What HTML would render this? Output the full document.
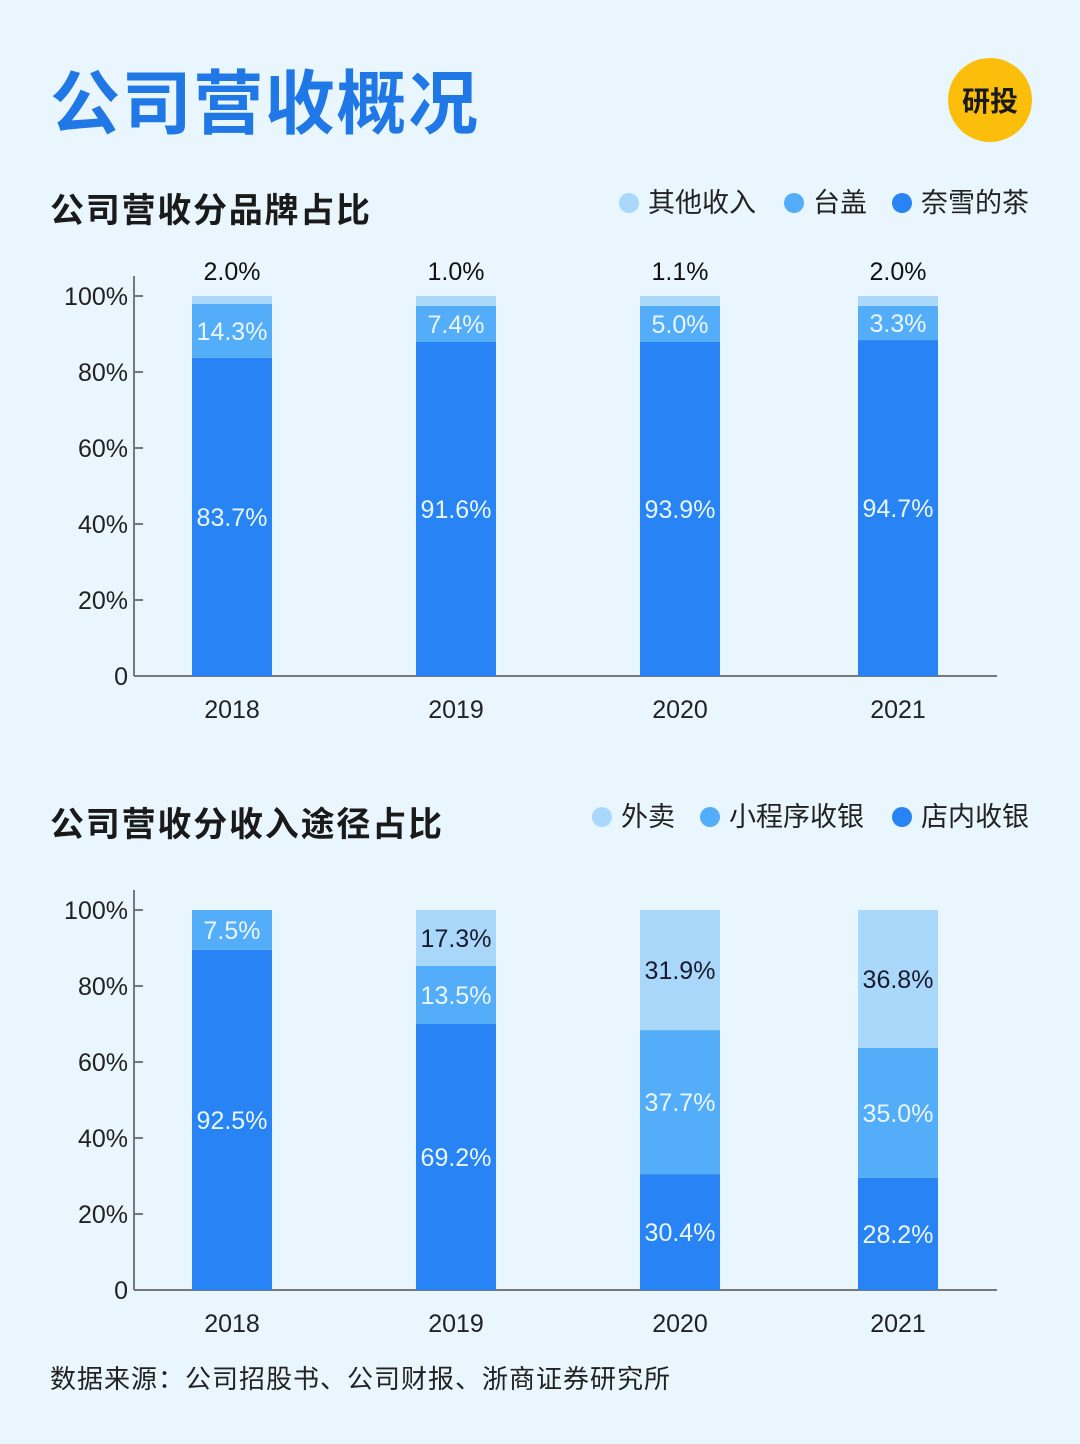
<!DOCTYPE html>
<html><head><meta charset="utf-8"><style>
body{margin:0;background:#eaf6fe;width:1080px;height:1439px;overflow:hidden;font-family:"Liberation Sans","Noto Sans CJK SC",sans-serif;}
</style></head><body>
<svg id="s" width="1080" height="1439" xmlns="http://www.w3.org/2000/svg" style="font-family:'Liberation Sans','Noto Sans CJK SC',sans-serif">
<rect width="1080" height="1439" fill="#eaf6fe"/>
<text x="50" y="128" font-size="70" font-weight="bold" fill="#1f78e6" textLength="428">公司营收概况</text>
<circle cx="990" cy="100" r="42" fill="#fbbf0b"/>
<text x="990" y="111" font-size="28" font-weight="bold" fill="#1a1a1a" text-anchor="middle">研投</text>
<text x="50" y="222" font-size="34" font-weight="bold" fill="#1a1a1a" textLength="320">公司营收分品牌占比</text>
<text x="50" y="836" font-size="34" font-weight="bold" fill="#1a1a1a" textLength="392">公司营收分收入途径占比</text>
<text x="50" y="1388" font-size="26" fill="#222" textLength="620">数据来源：公司招股书、公司财报、浙商证券研究所</text>
<g id="c1"></g>
<g id="c2"></g>
</svg>
<script>
const years=["2018","2019","2020","2021"];
// segment heights as drawn in the picture (% of axis)
const naixue=[83.7,87.9,87.9,88.4];
const taigai=[14.2,9.5,9.5,9.0];
const other=[2.1,2.6,2.6,2.6];
const instore=[89.5,70.0,30.5,29.5];
const miniapp=[10.5,15.3,37.9,34.2];
const delivery=[0,14.7,31.6,36.3];
// printed labels
const naixueLabels=["83.7%","91.6%","93.9%","94.7%"];
const taigaiLabels=["14.3%","7.4%","5.0%","3.3%"];
const otherLabels=["2.0%","1.0%","1.1%","2.0%"];
const instoreLabels=["92.5%","69.2%","30.4%","28.2%"];
const miniappLabels=["7.5%","13.5%","37.7%","35.0%"];
const deliveryLabels=["","17.3%","31.9%","36.8%"];
const yTicks=[0,20,40,60,80,100];
const yTickLabels=["0","20%","40%","60%","80%","100%"];
const NS="http://www.w3.org/2000/svg";
const C=["#2884f4","#54adf8","#aad8fa"];
const xc=[232,456,680,898];
function mk(p,t,a,txt){const e=document.createElementNS(NS,t);for(const k in a)e.setAttribute(k,a[k]);if(txt!=null)e.textContent=txt;p.appendChild(e);return e;}
function chart(gid,y0,series,labels,names,topOutside){
  const g=document.getElementById(gid);
  const y=v=>y0-v*3.8;
  const ax=mk(g,'line',{x1:134,y1:y0-400,x2:134,y2:y0,stroke:'#777','stroke-width':2});
  
  const bl=mk(g,'line',{x1:134,y1:y0,x2:997,y2:y0,stroke:'#777','stroke-width':2});
  
  yTicks.forEach((t,i)=>{
    const tk=mk(g,'line',{x1:134,y1:y(t),x2:143,y2:y(t),stroke:'#777','stroke-width':2});
    
    const tl=mk(g,'text',{x:128,y:y(t)+9,'font-size':25,fill:'#222','text-anchor':'end'},yTickLabels[i]);
    
  });
  years.forEach((yr,i)=>{
    const xl=mk(g,'text',{x:xc[i],y:y0+42,'font-size':25,fill:'#222','text-anchor':'middle'},yr);
    
    let acc=0;
    series.forEach((s,k)=>{
      const v=s[i];
      if(v>0){
        const r=mk(g,'rect',{x:xc[i]-40,y:y(acc+v),width:80,height:v*3.8,fill:C[k]});
        
        let ly=y(acc+v/2)+9,fill=k==2?'#1a1a2e':'#eaf6ff';
        if(k==2&&topOutside){ly=y(100)-16;fill='#111';}
        const t=mk(g,'text',{x:xc[i],y:ly,'font-size':25,fill:fill,'text-anchor':'middle'},labels[k][i]);
        
      }
      acc+=v;
    });
  });
}
chart('c1',676,[naixue,taigai,other],[naixueLabels,taigaiLabels,otherLabels],['naixue','taigai','other'],true);
chart('c2',1290,[instore,miniapp,delivery],[instoreLabels,miniappLabels,deliveryLabels],['instore','miniapp','delivery'],false);
function legend(items,y){
  const g=document.getElementById('s');
  items.forEach(it=>{
    const c=mk(g,'circle',{cx:it[0],cy:y-9,r:10,fill:it[2]});
    
    const t=mk(g,'text',{x:it[0]+19,y:y,'font-size':27,fill:'#222'},it[1]);
    
  });
}
legend([[629,'其他收入',C[2]],[794,'台盖',C[1]],[902,'奈雪的茶',C[0]]],212);
legend([[602,'外卖',C[2]],[710,'小程序收银',C[1]],[902,'店内收银',C[0]]],826);
</script>
</body></html>
